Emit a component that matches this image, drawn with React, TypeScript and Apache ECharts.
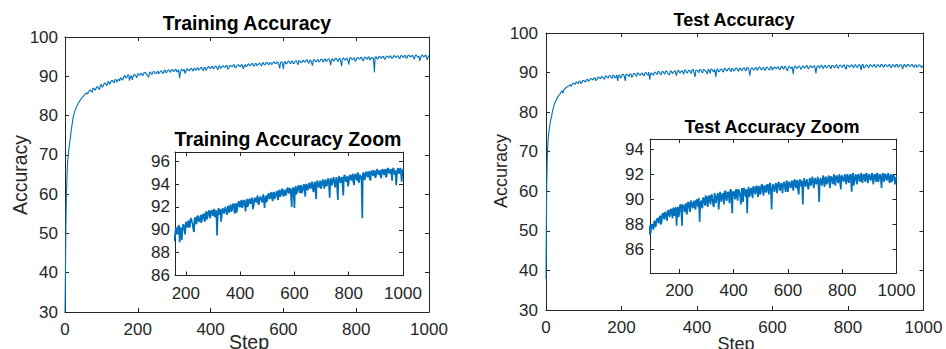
import React, { useEffect, useRef } from "react";
import * as echarts from "echarts";

// ---------------- data ----------------
const earlySteps = [0, 1, 2, 3, 4, 5, 6, 7, 8, 9];
const trainEarly = [30, 38, 48, 55, 60, 63, 66, 68, 69, 70];
const testEarly = [38, 52, 62, 67, 70, 72, 73.5, 74.5, 75.3, 76.0];

// sampled at steps 10, 15, 20, ... 1000
const trainAcc = [
  71.0, 74.5, 78.0, 80.5, 81.8, 82.8, 83.6, 84.3, 84.9, 85.4,
  85.8, 86.0, 86.6, 85.9, 87.0, 86.8, 87.4, 86.6, 87.9, 87.5,
  88.3, 87.6, 88.7, 88.4, 89.0, 88.3, 89.2, 89.0, 88.8, 89.5,
  89.4, 90.2, 89.7, 90.4, 89.9, 89.1, 90.5, 90.0, 90.7, 90.2,
  90.8, 90.3, 91.0, 90.5, 89.8, 91.1, 90.6, 91.2, 90.7, 91.3,
  90.9, 91.4, 90.7, 91.6, 91.1, 91.7, 91.0, 91.7, 91.2, 91.8,
  91.3, 89.5, 91.9, 91.3, 90.7, 91.9, 91.5, 92.0, 91.6, 92.1,
  91.5, 92.2, 91.7, 92.3, 91.4, 92.3, 91.9, 92.5, 92.0, 92.6,
  92.1, 92.6, 91.6, 92.7, 92.2, 92.7, 92.3, 92.8, 92.1, 92.8,
  92.4, 93.0, 92.3, 92.9, 92.5, 93.1, 91.9, 93.0, 92.6, 93.2,
  92.7, 93.3, 92.5, 93.3, 92.9, 93.4, 92.6, 93.5, 93.0, 93.6,
  92.9, 93.5, 93.1, 93.7, 93.2, 93.6, 92.0, 93.7, 91.9, 93.8,
  93.3, 93.9, 93.2, 93.9, 93.4, 94.0, 92.9, 94.0, 93.5, 94.1,
  93.6, 94.2, 93.3, 94.2, 92.7, 94.3, 93.7, 94.3, 93.8, 94.4,
  93.6, 94.4, 93.9, 94.5, 92.8, 94.5, 94.0, 94.6, 93.7, 94.6,
  92.6, 94.7, 94.1, 94.6, 93.0, 94.8, 94.2, 94.7, 94.1, 94.8,
  94.3, 94.9, 93.9, 94.9, 94.3, 95.0, 94.4, 94.6, 91.0, 95.0,
  94.4, 95.1, 94.6, 95.1, 94.3, 95.2, 94.7, 95.2, 94.6, 95.3,
  94.8, 95.2, 94.5, 95.3, 94.8, 95.3, 94.7, 95.4, 94.9, 95.3,
  94.3, 95.4, 94.8, 93.9, 95.3, 94.9, 95.4, 94.2, 95.3,
];
// sampled at steps 12, 17, 22, ... 997
const trainAccB = [
  72.5, 76.3, 79.4, 81.2, 82.3, 83.2, 84.0, 84.6, 85.1, 85.6,
  85.5, 86.4, 86.2, 86.9, 86.4, 87.3, 86.9, 87.7, 87.2, 88.1,
  88.0, 88.5, 87.9, 88.8, 88.6, 89.1, 88.5, 89.3, 89.6, 89.0,
  90.0, 89.6, 90.3, 88.9, 90.2, 89.8, 90.4, 89.6, 90.5, 90.6,
  90.2, 90.9, 90.7, 90.1, 90.9, 90.5, 91.2, 90.8, 91.0, 90.6,
  91.3, 91.0, 91.4, 90.9, 91.5, 91.3, 91.6, 91.4, 91.7, 91.1,
  91.7, 91.0, 91.6, 91.8, 91.2, 91.8, 91.4, 92.0, 91.3, 91.9,
  92.0, 91.6, 92.1, 91.9, 92.2, 91.5, 92.3, 92.1, 92.4, 91.9,
  92.5, 92.2, 92.4, 92.0, 92.6, 92.3, 92.7, 91.8, 92.6, 92.5,
  92.8, 92.2, 92.7, 92.9, 92.4, 92.8, 92.6, 92.4, 93.0, 92.8,
  93.1, 92.8, 93.2, 92.7, 93.1, 93.0, 93.3, 92.9, 93.4, 93.2,
  93.4, 93.0, 93.5, 93.3, 93.6, 93.1, 93.5, 93.4, 93.6, 93.1,
  93.7, 93.5, 93.8, 93.2, 93.7, 93.6, 93.9, 93.5, 93.9, 93.7,
  94.0, 93.7, 93.9, 93.5, 94.1, 93.9, 94.0, 93.6, 94.2, 94.0,
  94.2, 93.8, 94.3, 94.1, 94.2, 93.9, 94.4, 94.2, 94.3, 93.9,
  94.4, 94.3, 94.5, 94.0, 94.6, 94.4, 94.5, 93.8, 94.6, 94.5,
  94.7, 94.2, 94.7, 94.6, 94.8, 94.1, 94.8, 94.7, 94.9, 94.4,
  94.9, 94.8, 95.0, 94.5, 95.0, 94.9, 95.1, 94.6, 95.1, 95.0,
  95.1, 94.7, 95.2, 95.0, 95.2, 94.6, 95.3, 95.1, 95.2, 94.9,
  95.3, 95.1, 95.2, 94.7, 95.4, 95.0, 95.3, 94.8,
];

// sampled at steps 10, 15, 20, ... 1000
const testAcc = [
  76.6, 79.0, 81.2, 82.6, 83.6, 84.4, 85.1, 84.8, 85.9, 86.3,
  86.6, 86.9, 87.2, 87.3, 87.6, 87.1, 87.9, 87.4, 88.0, 87.6,
  88.3, 88.0, 88.5, 88.1, 88.7, 88.2, 88.9, 88.4, 88.9, 88.3,
  89.1, 88.6, 89.2, 88.5, 89.3, 88.8, 87.9, 89.4, 88.9, 89.6,
  87.9, 89.5, 89.0, 89.7, 89.1, 89.7, 89.0, 89.8, 89.3, 89.9,
  89.2, 90.0, 89.4, 88.2, 89.9, 89.3, 90.1, 89.5, 90.2, 89.4,
  90.3, 89.6, 90.4, 89.5, 90.5, 89.7, 90.3, 89.2, 90.6, 89.8,
  90.5, 89.6, 90.7, 89.9, 90.6, 89.7, 90.8, 88.9, 90.6, 90.0,
  90.8, 89.9, 90.7, 90.1, 90.9, 89.8, 90.8, 90.2, 88.9, 91.0,
  90.3, 90.9, 90.1, 91.0, 90.4, 91.1, 90.2, 91.0, 90.5, 91.2,
  90.3, 91.1, 90.6, 91.2, 90.4, 91.3, 89.2, 91.2, 90.6, 91.3,
  90.5, 91.4, 90.7, 91.3, 90.5, 91.4, 90.8, 91.5, 90.6, 91.4,
  90.9, 91.5, 90.7, 91.6, 90.9, 91.5, 90.4, 91.6, 91.0, 89.6,
  91.7, 91.0, 91.6, 90.8, 91.7, 91.1, 91.8, 90.9, 91.7, 91.2,
  91.8, 89.8, 91.7, 91.1, 91.9, 91.0, 91.8, 91.3, 91.9, 90.9,
  91.8, 91.2, 92.0, 91.1, 91.9, 91.3, 92.0, 90.8, 91.9, 91.4,
  92.0, 91.2, 92.0, 91.3, 92.0, 90.6, 92.1, 91.4, 92.0, 91.2,
  92.0, 91.4, 92.1, 91.3, 92.0, 91.4, 92.1, 91.3, 92.0, 91.5,
  92.1, 91.2, 92.0, 91.4, 92.1, 91.5, 92.0, 90.9, 92.1, 91.4,
  92.0, 91.5, 92.1, 91.3, 92.0, 91.5, 91.9, 91.2, 91.8,
];
// sampled at steps 12, 17, 22, ... 997
const testAccB = [
  77.8, 80.1, 82.0, 83.1, 84.0, 84.5, 85.4, 85.6, 86.1, 86.5,
  86.8, 86.5, 87.3, 87.0, 87.5, 87.7, 87.2, 88.0, 87.8, 88.2,
  87.8, 88.4, 88.3, 88.6, 88.0, 88.8, 88.6, 89.0, 88.6, 89.1,
  88.8, 89.2, 88.9, 89.3, 88.7, 89.4, 89.1, 88.6, 89.5, 89.2,
  89.6, 89.3, 89.5, 88.8, 89.8, 89.4, 89.9, 89.5, 89.7, 89.4,
  89.9, 89.6, 90.1, 89.7, 89.5, 90.1, 89.8, 90.3, 89.7, 90.2,
  89.9, 90.3, 90.0, 89.4, 90.3, 90.1, 90.5, 89.9, 90.4, 90.2,
  90.2, 90.6, 90.1, 90.5, 90.3, 90.7, 90.0, 90.6, 90.4, 90.7,
  90.2, 90.8, 90.5, 89.6, 90.6, 90.9, 90.4, 90.8, 90.5, 90.2,
  90.8, 90.5, 91.0, 90.6, 90.9, 90.7, 91.0, 90.4, 91.1, 90.8,
  91.0, 90.6, 91.1, 90.8, 91.2, 90.9, 90.7, 91.1, 90.8, 91.2,
  91.0, 91.3, 90.8, 91.2, 91.0, 91.3, 90.6, 91.4, 91.1, 91.3,
  91.2, 91.0, 91.4, 91.1, 91.5, 90.8, 91.4, 91.2, 91.5, 91.1,
  91.4, 91.3, 91.6, 91.0, 91.5, 91.4, 91.6, 91.2, 91.7, 91.4,
  91.5, 91.3, 91.7, 91.5, 91.4, 91.7, 91.2, 91.6, 91.5, 91.8,
  91.5, 91.7, 91.3, 91.8, 91.6, 91.7, 91.4, 91.8, 91.6, 91.7,
  91.6, 91.9, 91.5, 91.8, 91.7, 91.9, 91.1, 91.8, 91.6, 91.9,
  91.7, 91.8, 91.5, 91.9, 91.7, 92.0, 91.6, 91.9, 91.7, 91.8,
  91.6, 91.9, 91.7, 92.0, 91.4, 91.9, 91.7, 91.8, 91.6, 92.0,
  91.7, 91.9, 91.6, 91.8, 91.4, 91.9, 91.7, 91.6,
];

const mainXTicks = [0, 200, 400, 600, 800, 1000];
const mainYTicks = [30, 40, 50, 60, 70, 80, 90, 100];
const zoomXTicks = [200, 400, 600, 800, 1000];
const trainZoomYTicks = [86, 88, 90, 92, 94, 96];
const testZoomYTicks = [86, 88, 90, 92, 94];

// ---------------- helpers ----------------
const FONT = "'Liberation Sans', Arial, Helvetica, sans-serif";
const AX = "#262626";
const LINE = "#0072BD";

function buildPairs(early: number[], a: number[], b: number[]) {
  const out: number[][] = earlySteps.map((s, i) => [s, early[i]]);
  a.forEach((v, i) => out.push([10 + 5 * i, v]));
  b.forEach((v, i) => out.push([12 + 5 * i, v]));
  out.sort((p, q) => p[0] - q[0]);
  return out;
}

function axisPair(
  kind: "x" | "y",
  grid: number,
  min: number,
  max: number,
  ticks: number[],
  margin: number
) {
  const base = {
    type: "value",
    gridIndex: grid,
    min,
    max,
    splitLine: { show: false },
    axisLine: { show: true, onZero: false, lineStyle: { color: AX, width: 1 } },
    axisTick: {
      show: true,
      inside: true,
      length: 4,
      customValues: ticks,
      lineStyle: { color: AX, width: 1 },
    },
  };
  const main = {
    ...base,
    position: kind === "x" ? "bottom" : "left",
    axisLabel: {
      show: true,
      customValues: ticks,
      margin,
      color: AX,
      fontSize: 17,
      fontFamily: FONT,
      formatter: (v: number) => String(v),
    },
  };
  const other = {
    ...base,
    position: kind === "x" ? "top" : "right",
    axisLabel: { show: false, customValues: ticks },
  };
  return [main, other];
}

function txt(
  text: string,
  x: number,
  y: number,
  size: number,
  bold: boolean,
  rot = 0
) {
  return {
    type: "text",
    x,
    y,
    rotation: rot,
    z: 100,
    style: {
      text,
      fill: bold ? "#000" : AX,
      font: `${bold ? "bold " : ""}${size}px ${FONT}`,
      textAlign: "center",
      textVerticalAlign: "middle",
    },
  };
}

export default function App() {
  const ref = useRef<HTMLDivElement>(null);

  useEffect(() => {
    document.body.style.margin = "0";
    if (!ref.current) return;
    const chart = echarts.init(ref.current, null, {
      renderer: "svg",
      width: 946,
      height: 349,
    });

    const train = buildPairs(trainEarly, trainAcc, trainAccB);
    const test = buildPairs(testEarly, testAcc, testAccB);

    const grids = [
      { left: 65, top: 37, width: 364, height: 275 },
      { left: 175, top: 152, width: 228, height: 123.5, show: true, backgroundColor: "#fff", borderWidth: 0 },
      { left: 546, top: 33, width: 377.5, height: 277 },
      { left: 650, top: 139, width: 246.5, height: 134, show: true, backgroundColor: "#fff", borderWidth: 0 },
    ];

    const xAxis = [
      ...axisPair("x", 0, 0, 1000, mainXTicks, 9),
      ...axisPair("x", 1, 160, 1000, zoomXTicks, 9),
      ...axisPair("x", 2, 0, 1000, mainXTicks, 9),
      ...axisPair("x", 3, 92, 1000, zoomXTicks, 9),
    ];
    const yAxis = [
      ...axisPair("y", 0, 30, 100, mainYTicks, 7),
      ...axisPair("y", 1, 86, 96.8, trainZoomYTicks, 5),
      ...axisPair("y", 2, 30, 100, mainYTicks, 8),
      ...axisPair("y", 3, 84.15, 94.8, testZoomYTicks, 6),
    ];

    const mk = (data: number[][], g: number, w: number) => ({
      type: "line",
      data,
      xAxisIndex: 2 * g,
      yAxisIndex: 2 * g,
      showSymbol: false,
      symbol: "none",
      clip: true,
      lineStyle: { color: LINE, width: w },
      itemStyle: { color: LINE },
      z: 5,
    });

    chart.setOption({
      animation: false,
      backgroundColor: "#fff",
      grid: grids,
      xAxis,
      yAxis,
      series: [mk(train, 0, 1.1), mk(train, 1, 1.7), mk(test, 2, 1.1), mk(test, 3, 1.7)],
      graphic: [
        txt("Training Accuracy", 247, 23, 19.5, true),
        txt("Training Accuracy Zoom", 288, 138.5, 19.5, true),
        txt("Accuracy", 20, 175, 19.5, false, Math.PI / 2),
        txt("Step", 249, 342, 19.5, false),
        txt("Test Accuracy", 734, 19.5, 18, true),
        txt("Test Accuracy Zoom", 772, 127, 18, true),
        txt("Accuracy", 501, 171, 18, false, Math.PI / 2),
        txt("Step", 736, 343.5, 18, false),
      ],
    });
    return () => chart.dispose();
  }, []);

  return <div ref={ref} style={{ width: 946, height: 349 }} />;
}
